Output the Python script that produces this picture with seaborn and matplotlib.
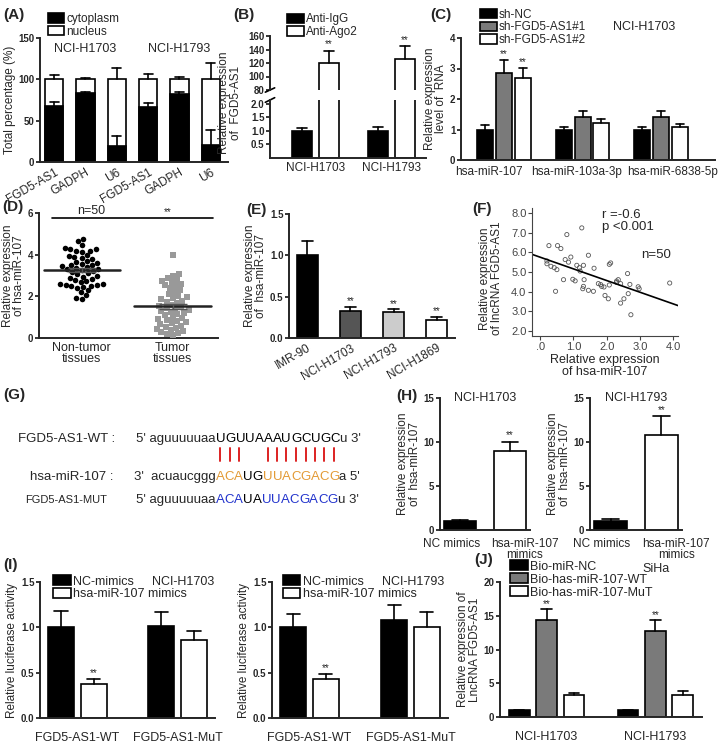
import numpy as np
import pandas as pd
import matplotlib
matplotlib.use("Agg")
import matplotlib.pyplot as plt
import matplotlib.transforms as mtransforms
import seaborn as sns
from matplotlib.patches import Patch
from matplotlib.lines import Line2D

# ---------------- data ----------------
# (A) subcellular fractionation
a_cells = ["NCI-H1703"] * 3 + ["NCI-H1793"] * 3
a_genes = ["FGD5-AS1", "GADPH", "U6"] * 2
a_cyto = [68, 84, 19, 66, 82, 20]
a_cyto_top = [72, 85, 32, 71, 85, 39]
a_total = [100, 100, 100, 100, 100, 100]
a_total_top = [105, 102, 114, 106, 103, 120]

# (B) RIP
b_cells = ["NCI-H1703", "NCI-H1793"]
b_ab = ["Anti-IgG", "Anti-Ago2"]
b_igg = [1.0, 1.0]
b_igg_top = [1.1, 1.16]
b_ago = [120, 126]
b_ago_top = [138, 145]

# (C) miRNA levels after knockdown
c_mirs = ["hsa-miR-107", "hsa-miR-103a-3p", "hsa-miR-6838-5p"]
c_sh = ["sh-NC", "sh-FGD5-AS1#1", "sh-FGD5-AS1#2"]
c_nc = [1.0, 1.0, 1.0]
c_nc_top = [1.15, 1.08, 1.08]
c_sh1 = [2.85, 1.4, 1.4]
c_sh1_top = [3.28, 1.6, 1.6]
c_sh2 = [2.7, 1.2, 1.07]
c_sh2_top = [3.02, 1.35, 1.18]

# (D) tissues
d_groups = ["Non-tumor\ntissues", "Tumor\ntissues"]
d_normal = [4.75, 4.65, 4.45, 4.3, 4.25, 4.25, 4.2, 4.2, 4.15, 4.0,
            3.95, 3.9, 3.85, 3.8, 3.7, 3.65, 3.6, 3.55, 3.5, 3.5,
            3.45, 3.4, 3.35, 3.3, 3.3, 3.25, 3.2, 3.15, 3.1, 3.05,
            3.0, 2.95, 2.9, 2.85, 2.8, 2.75, 2.7, 2.6, 2.6, 2.55,
            2.55, 2.5, 2.5, 2.45, 2.4, 2.3, 2.2, 2.05, 1.9, 1.85]
d_tumor = [4.0, 3.05, 3.0, 2.9, 2.8, 2.75, 2.7, 2.6, 2.55, 2.5,
           2.4, 2.3, 2.2, 2.1, 2.0, 1.95, 1.9, 1.85, 1.8, 1.75,
           1.7, 1.6, 1.55, 1.5, 1.45, 1.4, 1.35, 1.3, 1.25, 1.2,
           1.15, 1.1, 1.0, 0.95, 0.9, 0.85, 0.8, 0.75, 0.7, 0.65,
           0.6, 0.55, 0.5, 0.45, 0.4, 0.35, 0.3, 0.25, 0.2, 0.15]

# (E) cell lines
e_cells = ["IMR-90", "NCI-H1703", "NCI-H1793", "NCI-H1869"]
e_vals = [1.0, 0.33, 0.31, 0.22]
e_top = [1.17, 0.38, 0.345, 0.25]

# (F) correlation
f_mir = [1.25, 0.8, 0.26, 0.52, 0.62, 1.45, 0.92, 0.2, 0.2, 0.75,
         0.85, 1.1, 1.18, 1.3, 1.2, 0.32, 0.42, 0.5, 1.62, 2.08,
         2.12, 0.7, 0.98, 1.32, 0.46, 1.3, 1.28, 1.45, 1.6, 1.75,
         1.82, 1.85, 1.92, 2.08, 1.95, 2.05, 2.3, 2.35, 2.42, 2.63,
         2.7, 2.65, 2.52, 2.42, 2.73, 2.95, 2.98, 3.9, 2.3, 1.05]
f_lnc = [7.24, 6.9, 6.34, 6.34, 6.19, 5.85, 5.76, 5.56, 5.42, 5.63,
         5.5, 5.34, 5.22, 5.34, 5.05, 5.29, 5.22, 5.12, 5.19, 5.39,
         5.46, 4.61, 4.63, 4.61, 4.02, 4.27, 4.15, 4.07, 4.02, 4.41,
         4.36, 4.27, 4.24, 4.34, 3.81, 3.64, 4.54, 4.61, 4.41, 4.92,
         4.37, 3.9, 3.64, 3.42, 2.83, 4.25, 4.15, 4.44, 4.47, 4.55]

# (G) binding site
g_wt = ("5' aguuuuuaa", "UGUUAAAUGCUGC", "u 3'")
g_mir = ("3'  acuaucggg", "ACAUGUUACGACG", "a 5'")
g_mut = ("5' aguuuuuaa", "ACAUAUUACGACG", "u 3'")
g_mir_colors = ["o", "o", "o", "k", "k", "o", "o", "o", "o", "o", "o", "o", "o"]
g_mut_colors = ["b", "b", "b", "k", "k", "b", "b", "b", "b", "b", "b", "b", "b"]

# (H) mimics
h_groups = ["NC mimics", "hsa-miR-107\nmimics"]
h_1703 = [1.0, 9.0]
h_1703_top = [1.1, 10.0]
h_1793 = [1.05, 10.8]
h_1793_top = [1.2, 12.9]

# (I) luciferase
i_constructs = ["FGD5-AS1-WT", "FGD5-AS1-MuT"]
i_treat = ["NC-mimics", "hsa-miR-107 mimics"]
i_1703_nc = [1.0, 1.01]
i_1703_nc_top = [1.18, 1.17]
i_1703_mi = [0.38, 0.86]
i_1703_mi_top = [0.43, 0.96]
i_1793_nc = [1.0, 1.08]
i_1793_nc_top = [1.15, 1.25]
i_1793_mi = [0.43, 1.0]
i_1793_mi_top = [0.48, 1.17]

# (J) pull-down
j_cells = ["NCI-H1703", "NCI-H1793"]
j_probe = ["Bio-miR-NC", "Bio-has-miR-107-WT", "Bio-has-miR-107-MuT"]
j_nc = [1.0, 1.0]
j_nc_top = [1.1, 1.1]
j_wt = [14.3, 12.8]
j_wt_top = [16.0, 14.3]
j_mut = [3.2, 3.3]
j_mut_top = [3.6, 3.8]

# ---------------- style ----------------
sns.set_style("ticks")
plt.rcParams['font.family'] = ['Liberation Sans', 'DejaVu Sans']
plt.rcParams['axes.linewidth'] = 1.4

GRAY = "#7a7a7a"
LAB = 8.5      # axis titles
CAT = 8.5      # category labels
W, H = 720, 753
fig = plt.figure(figsize=(7.2, 7.53), dpi=100)


def box(l, t, r, b):
    return fig.add_axes([l / W, 1 - b / H, (r - l) / W, (b - t) / H])


def prism(ax, ticks, lim, fmt="{:g}", ylabel=None, xsize=CAT):
    sns.despine(ax=ax)
    ax.set_ylim(*lim)
    ax.set_yticks(ticks)
    ax.set_yticklabels([fmt.format(t) for t in ticks], fontweight='bold', fontsize=7)
    ax.tick_params(axis='y', length=3, width=1.3, pad=1)
    ax.tick_params(axis='x', length=0, labelsize=xsize, pad=3)
    ax.set_xlabel('')
    ax.set_ylabel(ylabel or '', fontsize=LAB, linespacing=0.95, labelpad=2)


def shift_labels(ax, offsets):
    # nudge category labels sideways (pixels) like the original layout
    for lab, dx in zip(ax.get_xticklabels(), offsets):
        lab.set_transform(lab.get_transform() +
                          mtransforms.ScaledTranslation(dx / 100, 0, fig.dpi_scale_trans))


def grouped(ax, cats, hues, values, colors, width=0.7, gap=0.2):
    rows = [(c, h, v) for h, vals in zip(hues, values) for c, v in zip(cats, vals)]
    df = pd.DataFrame(rows, columns=['cat', 'hue', 'val'])
    sns.barplot(data=df, x='cat', y='val', hue='hue', order=cats, hue_order=hues,
                palette=colors, edgecolor='black', linewidth=1.2, width=width,
                gap=gap, saturation=1, errorbar=None, legend=False, ax=ax)


def err_up(ax, tops, stars=(), star_off=0.0):
    for k, (cont, tvals) in enumerate(zip(ax.containers, tops)):
        for j, (bar, top) in enumerate(zip(cont, tvals)):
            cx = bar.get_x() + bar.get_width() / 2
            hw = bar.get_width() * 0.25
            h = bar.get_height()
            ax.plot([cx, cx], [h, top], color='black', lw=1.2, zorder=3)
            ax.plot([cx - hw, cx + hw], [top, top], color='black', lw=1.2, zorder=3)
            if (k, j) in stars:
                ax.text(cx, top + star_off, "**", ha='center', va='bottom', fontsize=7)


def legend(ax, labels, colors, x, y, size=8.5, spacing=0.05):
    handles = [Patch(facecolor=c, edgecolor='black', linewidth=1.2) for c in colors]
    ax.legend(handles, labels, loc='upper left', bbox_to_anchor=(x, y), frameon=False,
              fontsize=size, handlelength=1.4, handleheight=0.85, handletextpad=0.2,
              labelspacing=spacing, borderpad=0, borderaxespad=0)


def panel(label, x, y):
    fig.text(x / W, 1 - y / H, label, fontsize=11, fontweight='bold', va='center')


# ---------------- (A) ----------------
ax = box(40, 38, 228, 162)
a_keys = [f"{c} {g}" for c, g in zip(a_cells, a_genes)]
sns.barplot(x=a_keys, y=a_total, color='white', edgecolor='black', linewidth=1.2,
            width=0.58, saturation=1, errorbar=None, ax=ax)
sns.barplot(x=a_keys, y=a_cyto, color='black', edgecolor='black', linewidth=1.2,
            width=0.58, saturation=1, errorbar=None, ax=ax)
err_up(ax, [a_total_top, a_cyto_top])
ax.set_xlim(-0.45, 5.55)
prism(ax, [0, 50, 100, 150], (0, 150), ylabel="Total percentage (%)")
ax.set_xticks(range(6))
ax.set_xticklabels(a_genes, rotation=30, ha='right', rotation_mode='anchor', fontsize=CAT)
ax.text(1, 137, "NCI-H1703", ha='center', va='center', fontsize=9)
ax.text(4, 137, "NCI-H1793", ha='center', va='center', fontsize=9)
legend(ax, ["cytoplasm", "nucleus"], ['black', 'white'], 0.04, 1.2)
panel("(A)", 3, 15)

# ---------------- (B) broken axis ----------------
ax_t = box(270, 36, 426, 90)
ax_b = box(270, 100, 426, 158)
for a in (ax_t, ax_b):
    grouped(a, b_cells, b_ab, [b_igg, b_ago], ['black', 'white'], width=0.7, gap=0.25)
    a.set_xlim(-0.6, 1.45)
err_up(ax_t, [b_igg_top, b_ago_top], stars={(1, 0), (1, 1)}, star_off=2)
err_up(ax_b, [b_igg_top, [3, 3]])
prism(ax_t, [80, 100, 120, 140, 160], (80, 160))
ax_t.spines['bottom'].set_visible(False)
ax_t.set_xticks([])
prism(ax_b, [0.5, 1.0, 1.5, 2.0], (0, 2.14), fmt="{:.1f}")
ax_b.set_ylabel("Relative expression\nof  FGD5-AS1", fontsize=LAB, linespacing=0.95)
ax_b.yaxis.set_label_coords(-0.18, 0.95)
for a, yy in ((ax_t, 0.0), (ax_b, 1.0)):
    a.plot([-0.03, 0.03], [yy - 0.04, yy + 0.04], transform=a.transAxes,
           color='black', lw=1.2, clip_on=False)
legend(ax_t, b_ab, ['black', 'white'], 0.11, 1.42)
panel("(B)", 233, 15)

# ---------------- (C) ----------------
ax = box(461, 38, 715, 160)
grouped(ax, c_mirs, c_sh, [c_nc, c_sh1, c_sh2], ['black', GRAY, 'white'], width=0.72, gap=0.15)
err_up(ax, [c_nc_top, c_sh1_top, c_sh2_top], stars={(1, 0), (2, 0)}, star_off=0.04)
ax.set_xlim(-0.55, 2.69)
prism(ax, [0, 1, 2, 3, 4], (0, 4), ylabel="Relative expression\nlevel of  RNA")
ax.tick_params(axis='x', pad=4)
shift_labels(ax, (-15, -6, 12))
ax.text(0.72, 1.09, "NCI-H1703", transform=ax.transAxes, ha='center', va='center', fontsize=9)
legend(ax, c_sh, ['black', GRAY, 'white'], 0.075, 1.24)
panel("(C)", 430, 15)

# ---------------- (D) ----------------
ax = box(39, 213, 218, 338)
sns.swarmplot(x=[d_groups[0]] * len(d_normal), y=d_normal, order=d_groups, color='black',
              marker='o', size=4.0, ax=ax)
sns.swarmplot(x=[d_groups[1]] * len(d_tumor), y=d_tumor, order=d_groups, color='#999999',
              marker='s', size=4.0, ax=ax)
for i, vals in enumerate([d_normal, d_tumor]):
    m = np.mean(vals)
    sem = np.std(vals, ddof=1) / np.sqrt(len(vals))
    ax.plot([i - 0.42, i + 0.42], [m, m], color='#222222', lw=1.8, zorder=4)
    ax.errorbar(i, m, yerr=sem, color='#555555', capsize=10, lw=1, zorder=4)
ax.set_xlim(-0.47, 1.5)
prism(ax, [0, 2, 4, 6], (0, 6), ylabel="Relative expression\nof hsa-miR-107")
ax.set_xticks([0, 1])
ax.set_xticklabels(d_groups, fontsize=CAT + 0.5, linespacing=0.85)
ax.plot([-0.33, 1.45], [5.75, 5.75], color='black', lw=1.2, clip_on=False)
ax.text(0.1, 5.8, "n=50", ha='center', va='bottom', fontsize=9)
ax.text(0.95, 5.8, "**", ha='center', va='bottom', fontsize=7)
panel("(D)", 2, 207)

# ---------------- (E) ----------------
ax = box(289, 214, 455, 338)
sns.barplot(x=e_cells, y=e_vals, hue=e_cells, palette=['black', '#555555', '#cccccc', 'white'],
            edgecolor='black', linewidth=1.2, width=0.5, saturation=1, errorbar=None,
            legend=False, ax=ax)
for cont, top in zip(ax.containers, e_top):
    for bar in cont:
        cx = bar.get_x() + bar.get_width() / 2
        hw = bar.get_width() * 0.25
        ax.plot([cx, cx], [bar.get_height(), top], color='black', lw=1.2)
        ax.plot([cx - hw, cx + hw], [top, top], color='black', lw=1.2)
        if top < 0.5:
            ax.text(cx, top + 0.01, "**", ha='center', va='bottom', fontsize=7)
prism(ax, [0.0, 0.5, 1.0, 1.5], (0, 1.5), fmt="{:.1f}", ylabel="Relative expression\nof  hsa-miR-107")
ax.set_xticks(range(4))
ax.set_xticklabels(e_cells, rotation=30, ha='right', rotation_mode='anchor', fontsize=CAT)
panel("(E)", 246, 210)

# ---------------- (F) ----------------
ax = box(532, 208, 678, 336)
ax.set_xlim(-0.25, 4.15)
ax.set_ylim(1.75, 8.25)
sns.scatterplot(x=f_mir, y=f_lnc, s=9, facecolor='none', edgecolor='#555555',
                linewidth=0.6, ax=ax)
sns.regplot(x=f_mir, y=f_lnc, scatter=False, ci=None, truncate=False,
            line_kws=dict(color='black', lw=1.2), ax=ax)
ax.set_xlim(-0.25, 4.15)
ax.set_ylim(1.75, 8.25)
sns.despine(ax=ax)
for s in ('left', 'bottom'):
    ax.spines[s].set_linewidth(0.8)
    ax.spines[s].set_color('#444444')
ax.set_xticks([0, 1, 2, 3, 4])
ax.set_xticklabels([".0", "1.0", "2.0", "3.0", "4.0"], fontsize=8, color='#444444')
ax.set_yticks([2, 3, 4, 5, 6, 7, 8])
ax.set_yticklabels(["2.0", "3.0", "4.0", "5.0", "6.0", "7.0", "8.0"], fontsize=8, color='#444444')
ax.tick_params(length=3, width=0.8, color='#444444', pad=1)
ax.set_xlabel("Relative expression\nof hsa-miR-107", fontsize=9, linespacing=0.95, labelpad=2)
ax.set_ylabel("Relative expression\nof lncRNA FGD5-AS1", fontsize=8.5, linespacing=0.95, labelpad=2)
ax.yaxis.set_label_coords(-0.2, 0.45)
ax.text(1.85, 8.2, "r =-0.6\np <0.001", ha='left', va='top', fontsize=9.5, linespacing=1.0)
ax.text(3.05, 5.85, "n=50", ha='left', va='center', fontsize=9.5)
panel("(F)", 472, 209)

# ---------------- (G) sequences ----------------
panel("(G)", 3, 395)
renderer = fig.canvas.get_renderer()
X_UP = 216
ORANGE, BLUE = "#e39a35", "#2233cc"
cmap = {"k": "black", "o": ORANGE, "b": BLUE}


def seq_line(y, parts, colors, size=9.5):
    pre, core, post = parts
    fig.text(X_UP / W, 1 - y / H, pre, ha='right', va='baseline', fontsize=size)
    x = X_UP
    centers = []
    for ch, c in zip(core, colors):
        t = fig.text(x / W, 1 - y / H, ch, ha='left', va='baseline', fontsize=size, color=cmap[c])
        bb = t.get_window_extent(renderer)
        centers.append(x + bb.width / 2)
        x += bb.width
    fig.text(x / W, 1 - y / H, post, ha='left', va='baseline', fontsize=size)
    return centers


fig.text(115 / W, 1 - 442 / H, "FGD5-AS1-WT :", ha='right', va='baseline', fontsize=9.5)
fig.text(113 / W, 1 - 480 / H, "hsa-miR-107 :", ha='right', va='baseline', fontsize=9.5)
fig.text(107 / W, 1 - 503 / H, "FGD5-AS1-MUT", ha='right', va='baseline', fontsize=8)
seq_line(442, g_wt, ["k"] * len(g_wt[1]))
mir_x = seq_line(480, g_mir, g_mir_colors)
seq_line(503, g_mut, g_mut_colors)
pairs = {("U", "A"), ("A", "U"), ("G", "C"), ("C", "G")}
for cx, w, m in zip(mir_x, g_wt[1], g_mir[1]):
    if (w, m) in pairs:
        fig.add_artist(Line2D([cx / W, cx / W], [1 - 448 / H, 1 - 461 / H],
                              color='#dd2222', lw=1.4))

# ---------------- (H) ----------------
for l, r, vals, tops, title in ((440, 530, h_1703, h_1703_top, "NCI-H1703"),
                                (590, 682, h_1793, h_1793_top, "NCI-H1793")):
    ax = box(l, 398, r, 530)
    sns.barplot(x=h_groups, y=vals, hue=h_groups, palette=['black', 'white'],
                edgecolor='black', linewidth=1.2, width=0.65, saturation=1,
                errorbar=None, legend=False, ax=ax)
    for cont, top in zip(ax.containers, tops):
        for bar in cont:
            cx = bar.get_x() + bar.get_width() / 2
            hw = bar.get_width() * 0.25
            ax.plot([cx, cx], [bar.get_height(), top], color='black', lw=1.2)
            ax.plot([cx - hw, cx + hw], [top, top], color='black', lw=1.2)
            if top > 5:
                ax.text(cx, top + 0.2, "**", ha='center', va='bottom', fontsize=7)
    prism(ax, [0, 5, 10, 15], (0, 15), ylabel="Relative expression\nof  hsa-miR-107")
    ax.tick_params(axis='x', pad=6)
    ax.set_xticks([0, 1])
    ax.set_xticklabels(h_groups, fontsize=CAT, linespacing=0.8)
    shift_labels(ax, (-9, 15))
    ax.text(0.5, 1.0, title, transform=ax.transAxes, ha='center', va='center', fontsize=9)
panel("(H)", 396, 396)

# ---------------- (I) ----------------
for l, r, nc, nct, mi, mit, title, lx, tx in (
        (40, 215, i_1703_nc, i_1703_nc_top, i_1703_mi, i_1703_mi_top, "NCI-H1703", 0.075, 0.82),
        (272, 448, i_1793_nc, i_1793_nc_top, i_1793_mi, i_1793_mi_top, "NCI-H1793", 0.06, 0.8)):
    ax = box(l, 582, r, 718)
    grouped(ax, i_constructs, i_treat, [nc, mi], ['black', 'white'], width=0.65, gap=0.2)
    err_up(ax, [nct, mit], stars={(1, 0)}, star_off=0.01)
    prism(ax, [0.0, 0.5, 1.0, 1.5], (0, 1.5), fmt="{:.1f}", ylabel="Relative luciferase activity",
          xsize=9)
    ax.tick_params(axis='x', pad=10)
    ax.text(tx, 1.0, title, transform=ax.transAxes, ha='center', va='center', fontsize=9)
    legend(ax, i_treat, ['black', 'white'], lx, 1.05, size=9)
panel("(I)", 3, 565)

# ---------------- (J) ----------------
ax = box(500, 582, 702, 717)
grouped(ax, j_cells, j_probe, [j_nc, j_wt, j_mut], ['black', GRAY, 'white'], width=0.75, gap=0.25)
err_up(ax, [j_nc_top, j_wt_top, j_mut_top], stars={(1, 0), (1, 1)}, star_off=0.0)
prism(ax, [0, 5, 10, 15, 20], (0, 20), ylabel="Relative expression of\nLncRNA FGD5-AS1", xsize=9)
ax.tick_params(axis='x', pad=10)
ax.text(0.77, 1.1, "SiHa", transform=ax.transAxes, ha='center', va='center', fontsize=9)
legend(ax, j_probe, ['black', GRAY, 'white'], 0.05, 1.16, size=9)
panel("(J)", 474, 560)

fig.savefig("out.png", dpi=100)
